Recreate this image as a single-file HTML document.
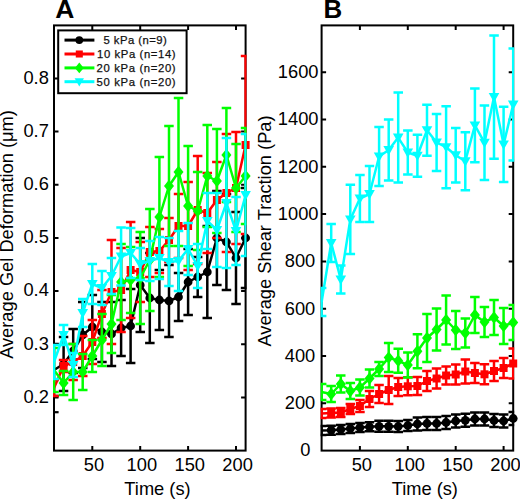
<!DOCTYPE html>
<html><head><meta charset="utf-8"><title>Figure</title><style>html,body{margin:0;padding:0;background:#fff;width:520px;height:500px;overflow:hidden;}svg{display:block;font-family:"Liberation Sans",sans-serif;}</style></head><body>
<svg width="520" height="500" viewBox="0 0 520 500"><defs><clipPath id="ca"><rect x="53" y="24.4" width="193.6" height="427.2"/></clipPath><clipPath id="cb"><rect x="320.6" y="24.4" width="193.6" height="427.2"/></clipPath></defs>
<rect x="54" y="25.4" width="191.6" height="425.2" fill="none" stroke="#000" stroke-width="2"/>
<path d="M92.3 450.6V446.1M92.3 25.4V29.9M140.2 450.6V446.1M140.2 25.4V29.9M188.1 450.6V446.1M188.1 25.4V29.9M236.0 450.6V446.1M236.0 25.4V29.9M54 397.4H58.5M245.6 397.4H241.1M54 344.3H58.5M245.6 344.3H241.1M54 291.1H58.5M245.6 291.1H241.1M54 237.9H58.5M245.6 237.9H241.1M54 184.8H58.5M245.6 184.8H241.1M54 131.6H58.5M245.6 131.6H241.1M54 78.4H58.5M245.6 78.4H241.1" stroke="#000" stroke-width="2" fill="none"/>
<rect x="321.6" y="25.4" width="191.6" height="425.2" fill="none" stroke="#000" stroke-width="2"/>
<path d="M359.9 450.6V446.1M359.9 25.4V29.9M407.8 450.6V446.1M407.8 25.4V29.9M455.7 450.6V446.1M455.7 25.4V29.9M503.6 450.6V446.1M503.6 25.4V29.9M321.6 403.3H326.1M513.2 403.3H508.7M321.6 356.0H326.1M513.2 356.0H508.7M321.6 308.7H326.1M513.2 308.7H508.7M321.6 261.4H326.1M513.2 261.4H508.7M321.6 214.1H326.1M513.2 214.1H508.7M321.6 166.8H326.1M513.2 166.8H508.7M321.6 119.5H326.1M513.2 119.5H508.7M321.6 72.2H326.1M513.2 72.2H508.7" stroke="#000" stroke-width="2" fill="none"/>
<path d="M54 412.2H58.6" stroke="#000" stroke-width="2.2"/>
<g><path d="M54.0 344.0V396.0M49.2 344.0H58.8M49.2 396.0H58.8M63.6 337.0V391.0M58.8 337.0H68.3M58.8 391.0H68.3M73.2 329.0V373.0M68.4 329.0H77.9M68.4 373.0H77.9M82.7 302.0V368.0M78.0 302.0H87.5M78.0 368.0H87.5M92.3 295.0V359.0M87.6 295.0H97.1M87.6 359.0H97.1M101.9 302.0V362.0M97.2 302.0H106.7M97.2 362.0H106.7M111.5 302.0V366.0M106.7 302.0H116.2M106.7 366.0H116.2M121.1 300.0V356.0M116.3 300.0H125.8M116.3 356.0H125.8M130.6 289.0V363.0M125.9 289.0H135.4M125.9 363.0H135.4M140.2 238.0V332.0M135.5 238.0H145.0M135.5 332.0H145.0M149.8 253.0V343.0M145.1 253.0H154.6M145.1 343.0H154.6M159.4 270.0V330.0M154.6 270.0H164.1M154.6 330.0H164.1M169.0 265.0V337.0M164.2 265.0H173.7M164.2 337.0H173.7M178.5 273.0V321.0M173.8 273.0H183.3M173.8 321.0H183.3M188.1 249.0V315.0M183.4 249.0H192.9M183.4 315.0H192.9M197.7 257.0V297.0M192.9 257.0H202.4M192.9 297.0H202.4M207.3 226.0V318.0M202.5 226.0H212.0M202.5 318.0H212.0M216.9 191.0V285.0M212.1 191.0H221.6M212.1 285.0H221.6M226.4 194.0V290.0M221.7 194.0H231.2M221.7 290.0H231.2M236.0 212.0V304.0M231.3 212.0H240.8M231.3 304.0H240.8M245.6 188.0V288.0M240.8 188.0H250.3M240.8 288.0H250.3" stroke="#000000" stroke-width="2.5" fill="none" clip-path="url(#ca)"/>
<polyline points="54.0,370.0 63.6,364.0 73.2,351.0 82.7,335.0 92.3,327.0 101.9,332.0 111.5,334.0 121.1,328.0 130.6,326.0 140.2,285.0 149.8,298.0 159.4,300.0 169.0,301.0 178.5,297.0 188.1,282.0 197.7,277.0 207.3,272.0 216.9,238.0 226.4,242.0 236.0,258.0 245.6,238.0" stroke="#000000" stroke-width="2.5" fill="none" stroke-linejoin="round" clip-path="url(#ca)"/>
<circle cx="63.6" cy="364.0" r="4.4" fill="#000000"/>
<circle cx="73.2" cy="351.0" r="4.4" fill="#000000"/>
<circle cx="82.7" cy="335.0" r="4.4" fill="#000000"/>
<circle cx="92.3" cy="327.0" r="4.4" fill="#000000"/>
<circle cx="101.9" cy="332.0" r="4.4" fill="#000000"/>
<circle cx="111.5" cy="334.0" r="4.4" fill="#000000"/>
<circle cx="121.1" cy="328.0" r="4.4" fill="#000000"/>
<circle cx="130.6" cy="326.0" r="4.4" fill="#000000"/>
<circle cx="140.2" cy="285.0" r="4.4" fill="#000000"/>
<circle cx="149.8" cy="298.0" r="4.4" fill="#000000"/>
<circle cx="159.4" cy="300.0" r="4.4" fill="#000000"/>
<circle cx="169.0" cy="301.0" r="4.4" fill="#000000"/>
<circle cx="178.5" cy="297.0" r="4.4" fill="#000000"/>
<circle cx="188.1" cy="282.0" r="4.4" fill="#000000"/>
<circle cx="197.7" cy="277.0" r="4.4" fill="#000000"/>
<circle cx="207.3" cy="272.0" r="4.4" fill="#000000"/>
<circle cx="216.9" cy="238.0" r="4.4" fill="#000000"/>
<circle cx="226.4" cy="242.0" r="4.4" fill="#000000"/>
<circle cx="236.0" cy="258.0" r="4.4" fill="#000000"/>
<circle cx="245.6" cy="238.0" r="4.4" fill="#000000"/>
<path d="M54.0 380.0V396.0M49.2 380.0H58.8M49.2 396.0H58.8M63.6 360.0V372.0M58.8 360.0H68.3M58.8 372.0H68.3M73.2 344.0V380.0M68.4 344.0H77.9M68.4 380.0H77.9M82.7 336.0V376.0M78.0 336.0H87.5M78.0 376.0H87.5M92.3 320.0V364.0M87.6 320.0H97.1M87.6 364.0H97.1M101.9 290.0V338.0M97.2 290.0H106.7M97.2 338.0H106.7M111.5 240.0V344.0M106.7 240.0H116.2M106.7 344.0H116.2M121.1 248.0V332.0M116.3 248.0H125.8M116.3 332.0H125.8M130.6 222.0V318.0M125.9 222.0H135.4M125.9 318.0H135.4M140.2 242.0V302.0M135.5 242.0H145.0M135.5 302.0H145.0M149.8 227.0V277.0M145.1 227.0H154.6M145.1 277.0H154.6M159.4 229.0V273.0M154.6 229.0H164.1M154.6 273.0H164.1M169.0 218.0V262.0M164.2 218.0H173.7M164.2 262.0H173.7M178.5 194.0V258.0M173.8 194.0H183.3M173.8 258.0H183.3M188.1 182.0V270.0M183.4 182.0H192.9M183.4 270.0H192.9M197.7 156.0V264.0M192.9 156.0H202.4M192.9 264.0H202.4M207.3 173.0V253.0M202.5 173.0H212.0M202.5 253.0H212.0M216.9 162.0V238.0M212.1 162.0H221.6M212.1 238.0H221.6M226.4 134.0V252.0M221.7 134.0H231.2M221.7 252.0H231.2M236.0 132.0V244.0M231.3 132.0H240.8M231.3 244.0H240.8M245.6 56.0V234.0M240.8 56.0H250.3M240.8 234.0H250.3" stroke="#ff0000" stroke-width="2.5" fill="none" clip-path="url(#ca)"/>
<polyline points="54.0,388.0 63.6,366.0 73.2,362.0 82.7,356.0 92.3,342.0 101.9,314.0 111.5,292.0 121.1,290.0 130.6,270.0 140.2,272.0 149.8,252.0 159.4,251.0 169.0,240.0 178.5,226.0 188.1,226.0 197.7,210.0 207.3,213.0 216.9,200.0 226.4,193.0 236.0,188.0 245.6,145.0" stroke="#ff0000" stroke-width="2.5" fill="none" stroke-linejoin="round" clip-path="url(#ca)"/>
<rect x="59.6" y="362.0" width="8.0" height="8.0" fill="#ff0000"/>
<rect x="69.2" y="358.0" width="8.0" height="8.0" fill="#ff0000"/>
<rect x="78.7" y="352.0" width="8.0" height="8.0" fill="#ff0000"/>
<rect x="88.3" y="338.0" width="8.0" height="8.0" fill="#ff0000"/>
<rect x="97.9" y="310.0" width="8.0" height="8.0" fill="#ff0000"/>
<rect x="107.5" y="288.0" width="8.0" height="8.0" fill="#ff0000"/>
<rect x="117.1" y="286.0" width="8.0" height="8.0" fill="#ff0000"/>
<rect x="126.6" y="266.0" width="8.0" height="8.0" fill="#ff0000"/>
<rect x="136.2" y="268.0" width="8.0" height="8.0" fill="#ff0000"/>
<rect x="145.8" y="248.0" width="8.0" height="8.0" fill="#ff0000"/>
<rect x="155.4" y="247.0" width="8.0" height="8.0" fill="#ff0000"/>
<rect x="165.0" y="236.0" width="8.0" height="8.0" fill="#ff0000"/>
<rect x="174.5" y="222.0" width="8.0" height="8.0" fill="#ff0000"/>
<rect x="184.1" y="222.0" width="8.0" height="8.0" fill="#ff0000"/>
<rect x="193.7" y="206.0" width="8.0" height="8.0" fill="#ff0000"/>
<rect x="203.3" y="209.0" width="8.0" height="8.0" fill="#ff0000"/>
<rect x="212.9" y="196.0" width="8.0" height="8.0" fill="#ff0000"/>
<rect x="222.4" y="189.0" width="8.0" height="8.0" fill="#ff0000"/>
<rect x="232.0" y="184.0" width="8.0" height="8.0" fill="#ff0000"/>
<rect x="241.6" y="141.0" width="8.0" height="8.0" fill="#ff0000"/>
<path d="M54.0 348.0V392.0M49.2 348.0H58.8M49.2 392.0H58.8M63.6 371.0V395.0M58.8 371.0H68.3M58.8 395.0H68.3M73.2 344.0V400.0M68.4 344.0H77.9M68.4 400.0H77.9M82.7 354.0V390.0M78.0 354.0H87.5M78.0 390.0H87.5M92.3 340.0V372.0M87.6 340.0H97.1M87.6 372.0H97.1M101.9 314.0V366.0M97.2 314.0H106.7M97.2 366.0H106.7M111.5 295.0V353.0M106.7 295.0H116.2M106.7 353.0H116.2M121.1 244.0V320.0M116.3 244.0H125.8M116.3 320.0H125.8M130.6 247.0V313.0M125.9 247.0H135.4M125.9 313.0H135.4M140.2 232.0V324.0M135.5 232.0H145.0M135.5 324.0H145.0M149.8 209.0V311.0M145.1 209.0H154.6M145.1 311.0H154.6M159.4 157.0V277.0M154.6 157.0H164.1M154.6 277.0H164.1M169.0 126.0V246.0M164.2 126.0H173.7M164.2 246.0H173.7M178.5 98.0V246.0M173.8 98.0H183.3M173.8 246.0H183.3M188.1 146.0V266.0M183.4 146.0H192.9M183.4 266.0H192.9M197.7 172.0V250.0M192.9 172.0H202.4M192.9 250.0H202.4M207.3 125.0V227.0M202.5 125.0H212.0M202.5 227.0H212.0M216.9 129.0V233.0M212.1 129.0H221.6M212.1 233.0H221.6M226.4 108.0V202.0M221.7 108.0H231.2M221.7 202.0H231.2M236.0 144.0V232.0M231.3 144.0H240.8M231.3 232.0H240.8M245.6 128.0V224.0M240.8 128.0H250.3M240.8 224.0H250.3" stroke="#00ff00" stroke-width="2.5" fill="none" clip-path="url(#ca)"/>
<polyline points="54.0,370.0 63.6,383.0 73.2,372.0 82.7,372.0 92.3,356.0 101.9,340.0 111.5,324.0 121.1,282.0 130.6,280.0 140.2,278.0 149.8,260.0 159.4,217.0 169.0,186.0 178.5,172.0 188.1,206.0 197.7,211.0 207.3,176.0 216.9,181.0 226.4,155.0 236.0,188.0 245.6,176.0" stroke="#00ff00" stroke-width="2.5" fill="none" stroke-linejoin="round" clip-path="url(#ca)"/>
<path d="M63.6 376.8L68.6 383.0L63.6 389.2L58.6 383.0Z" fill="#00ff00"/>
<path d="M73.2 365.8L78.2 372.0L73.2 378.2L68.2 372.0Z" fill="#00ff00"/>
<path d="M82.7 365.8L87.7 372.0L82.7 378.2L77.7 372.0Z" fill="#00ff00"/>
<path d="M92.3 349.8L97.3 356.0L92.3 362.2L87.3 356.0Z" fill="#00ff00"/>
<path d="M101.9 333.8L106.9 340.0L101.9 346.2L96.9 340.0Z" fill="#00ff00"/>
<path d="M111.5 317.8L116.5 324.0L111.5 330.2L106.5 324.0Z" fill="#00ff00"/>
<path d="M121.1 275.8L126.1 282.0L121.1 288.2L116.1 282.0Z" fill="#00ff00"/>
<path d="M130.6 273.8L135.6 280.0L130.6 286.2L125.6 280.0Z" fill="#00ff00"/>
<path d="M140.2 271.8L145.2 278.0L140.2 284.2L135.2 278.0Z" fill="#00ff00"/>
<path d="M149.8 253.8L154.8 260.0L149.8 266.2L144.8 260.0Z" fill="#00ff00"/>
<path d="M159.4 210.8L164.4 217.0L159.4 223.2L154.4 217.0Z" fill="#00ff00"/>
<path d="M169.0 179.8L174.0 186.0L169.0 192.2L164.0 186.0Z" fill="#00ff00"/>
<path d="M178.5 165.8L183.5 172.0L178.5 178.2L173.5 172.0Z" fill="#00ff00"/>
<path d="M188.1 199.8L193.1 206.0L188.1 212.2L183.1 206.0Z" fill="#00ff00"/>
<path d="M197.7 204.8L202.7 211.0L197.7 217.2L192.7 211.0Z" fill="#00ff00"/>
<path d="M207.3 169.8L212.3 176.0L207.3 182.2L202.3 176.0Z" fill="#00ff00"/>
<path d="M216.9 174.8L221.9 181.0L216.9 187.2L211.9 181.0Z" fill="#00ff00"/>
<path d="M226.4 148.8L231.4 155.0L226.4 161.2L221.4 155.0Z" fill="#00ff00"/>
<path d="M236.0 181.8L241.0 188.0L236.0 194.2L231.0 188.0Z" fill="#00ff00"/>
<path d="M245.6 169.8L250.6 176.0L245.6 182.2L240.6 176.0Z" fill="#00ff00"/>
<path d="M54.0 345.0V379.0M49.2 345.0H58.8M49.2 379.0H58.8M63.6 325.0V345.0M58.8 325.0H68.3M58.8 345.0H68.3M73.2 353.0V377.0M68.4 353.0H77.9M68.4 377.0H77.9M82.7 299.0V327.0M78.0 299.0H87.5M78.0 327.0H87.5M92.3 264.0V304.0M87.6 264.0H97.1M87.6 304.0H97.1M101.9 271.0V305.0M97.2 271.0H106.7M97.2 305.0H106.7M111.5 258.0V294.0M106.7 258.0H116.2M106.7 294.0H116.2M121.1 227.5V285.5M116.3 227.5H125.8M116.3 285.5H125.8M130.6 228.0V278.0M125.9 228.0H135.4M125.9 278.0H135.4M140.2 248.0V280.0M135.5 248.0H145.0M135.5 280.0H145.0M149.8 241.0V281.0M145.1 241.0H154.6M145.1 281.0H154.6M159.4 237.0V279.0M154.6 237.0H164.1M154.6 279.0H164.1M169.0 238.0V286.0M164.2 238.0H173.7M164.2 286.0H173.7M178.5 231.0V291.0M173.8 231.0H183.3M173.8 291.0H183.3M188.1 223.0V275.0M183.4 223.0H192.9M183.4 275.0H192.9M197.7 244.0V288.0M192.9 244.0H202.4M192.9 288.0H202.4M207.3 193.0V249.0M202.5 193.0H212.0M202.5 249.0H212.0M216.9 193.0V267.0M212.1 193.0H221.6M212.1 267.0H221.6M226.4 138.0V268.0M221.7 138.0H231.2M221.7 268.0H231.2M236.0 197.0V265.0M231.3 197.0H240.8M231.3 265.0H240.8M245.6 134.0V256.0M240.8 134.0H250.3M240.8 256.0H250.3" stroke="#00ffff" stroke-width="2.5" fill="none" clip-path="url(#ca)"/>
<polyline points="54.0,362.0 63.6,335.0 73.2,365.0 82.7,313.0 92.3,284.0 101.9,288.0 111.5,276.0 121.1,256.5 130.6,253.0 140.2,264.0 149.8,261.0 159.4,258.0 169.0,262.0 178.5,261.0 188.1,249.0 197.7,266.0 207.3,221.0 216.9,230.0 226.4,203.0 236.0,231.0 245.6,195.0" stroke="#00ffff" stroke-width="2.5" fill="none" stroke-linejoin="round" clip-path="url(#ca)"/>
<path d="M58.3 331.0L68.9 331.0L63.6 340.4Z" fill="#00ffff"/>
<path d="M67.9 361.0L78.5 361.0L73.2 370.4Z" fill="#00ffff"/>
<path d="M77.4 309.0L88.0 309.0L82.7 318.4Z" fill="#00ffff"/>
<path d="M87.0 280.0L97.6 280.0L92.3 289.4Z" fill="#00ffff"/>
<path d="M96.6 284.0L107.2 284.0L101.9 293.4Z" fill="#00ffff"/>
<path d="M106.2 272.0L116.8 272.0L111.5 281.4Z" fill="#00ffff"/>
<path d="M115.8 252.5L126.4 252.5L121.1 261.9Z" fill="#00ffff"/>
<path d="M125.3 249.0L135.9 249.0L130.6 258.4Z" fill="#00ffff"/>
<path d="M134.9 260.0L145.5 260.0L140.2 269.4Z" fill="#00ffff"/>
<path d="M144.5 257.0L155.1 257.0L149.8 266.4Z" fill="#00ffff"/>
<path d="M154.1 254.0L164.7 254.0L159.4 263.4Z" fill="#00ffff"/>
<path d="M163.7 258.0L174.3 258.0L169.0 267.4Z" fill="#00ffff"/>
<path d="M173.2 257.0L183.8 257.0L178.5 266.4Z" fill="#00ffff"/>
<path d="M182.8 245.0L193.4 245.0L188.1 254.4Z" fill="#00ffff"/>
<path d="M192.4 262.0L203.0 262.0L197.7 271.4Z" fill="#00ffff"/>
<path d="M202.0 217.0L212.6 217.0L207.3 226.4Z" fill="#00ffff"/>
<path d="M211.6 226.0L222.2 226.0L216.9 235.4Z" fill="#00ffff"/>
<path d="M221.1 199.0L231.7 199.0L226.4 208.4Z" fill="#00ffff"/>
<path d="M230.7 227.0L241.3 227.0L236.0 236.4Z" fill="#00ffff"/>
<path d="M240.3 191.0L250.9 191.0L245.6 200.4Z" fill="#00ffff"/></g>
<g><path d="M321.6 426.1V435.1M316.9 426.1H326.4M316.9 435.1H326.4M331.2 425.7V434.7M326.4 425.7H335.9M326.4 434.7H335.9M340.8 425.0V434.0M336.0 425.0H345.5M336.0 434.0H345.5M350.3 424.0V433.0M345.6 424.0H355.1M345.6 433.0H355.1M359.9 423.0V432.0M355.2 423.0H364.7M355.2 432.0H364.7M369.5 422.3V431.3M364.8 422.3H374.2M364.8 431.3H374.2M379.1 420.8V431.8M374.3 420.8H383.8M374.3 431.8H383.8M388.7 420.8V431.8M383.9 420.8H393.4M383.9 431.8H393.4M398.2 421.0V432.0M393.5 421.0H403.0M393.5 432.0H403.0M407.8 420.0V431.0M403.1 420.0H412.6M403.1 431.0H412.6M417.4 417.5V430.5M412.7 417.5H422.2M412.7 430.5H422.2M427.0 417.0V430.0M422.2 417.0H431.7M422.2 430.0H431.7M436.6 417.0V430.0M431.8 417.0H441.3M431.8 430.0H441.3M446.1 416.0V429.0M441.4 416.0H450.9M441.4 429.0H450.9M455.7 414.5V427.5M451.0 414.5H460.5M451.0 427.5H460.5M465.3 413.8V426.8M460.6 413.8H470.1M460.6 426.8H470.1M474.9 412.5V425.5M470.1 412.5H479.6M470.1 425.5H479.6M484.5 412.5V425.5M479.7 412.5H489.2M479.7 425.5H489.2M494.0 414.0V427.0M489.3 414.0H498.8M489.3 427.0H498.8M503.6 414.5V427.5M498.9 414.5H508.4M498.9 427.5H508.4M513.2 412.0V425.0M508.5 412.0H518.0M508.5 425.0H518.0" stroke="#000000" stroke-width="2.5" fill="none" clip-path="url(#cb)"/>
<polyline points="321.6,430.6 331.2,430.2 340.8,429.5 350.3,428.5 359.9,427.5 369.5,426.8 379.1,426.3 388.7,426.3 398.2,426.5 407.8,425.5 417.4,424.0 427.0,423.5 436.6,423.5 446.1,422.5 455.7,421.0 465.3,420.3 474.9,419.0 484.5,419.0 494.0,420.5 503.6,421.0 513.2,418.5" stroke="#000000" stroke-width="2.5" fill="none" stroke-linejoin="round" clip-path="url(#cb)"/>
<circle cx="331.2" cy="430.2" r="4.4" fill="#000000"/>
<circle cx="340.8" cy="429.5" r="4.4" fill="#000000"/>
<circle cx="350.3" cy="428.5" r="4.4" fill="#000000"/>
<circle cx="359.9" cy="427.5" r="4.4" fill="#000000"/>
<circle cx="369.5" cy="426.8" r="4.4" fill="#000000"/>
<circle cx="379.1" cy="426.3" r="4.4" fill="#000000"/>
<circle cx="388.7" cy="426.3" r="4.4" fill="#000000"/>
<circle cx="398.2" cy="426.5" r="4.4" fill="#000000"/>
<circle cx="407.8" cy="425.5" r="4.4" fill="#000000"/>
<circle cx="417.4" cy="424.0" r="4.4" fill="#000000"/>
<circle cx="427.0" cy="423.5" r="4.4" fill="#000000"/>
<circle cx="436.6" cy="423.5" r="4.4" fill="#000000"/>
<circle cx="446.1" cy="422.5" r="4.4" fill="#000000"/>
<circle cx="455.7" cy="421.0" r="4.4" fill="#000000"/>
<circle cx="465.3" cy="420.3" r="4.4" fill="#000000"/>
<circle cx="474.9" cy="419.0" r="4.4" fill="#000000"/>
<circle cx="484.5" cy="419.0" r="4.4" fill="#000000"/>
<circle cx="494.0" cy="420.5" r="4.4" fill="#000000"/>
<circle cx="503.6" cy="421.0" r="4.4" fill="#000000"/>
<circle cx="513.2" cy="418.5" r="4.4" fill="#000000"/>
<path d="M321.6 409.0V418.0M316.9 409.0H326.4M316.9 418.0H326.4M331.2 408.5V417.5M326.4 408.5H335.9M326.4 417.5H335.9M340.8 408.0V417.0M336.0 408.0H345.5M336.0 417.0H345.5M350.3 404.0V414.0M345.6 404.0H355.1M345.6 414.0H355.1M359.9 400.0V412.0M355.2 400.0H364.7M355.2 412.0H364.7M369.5 391.0V407.0M364.8 391.0H374.2M364.8 407.0H374.2M379.1 385.0V403.0M374.3 385.0H383.8M374.3 403.0H383.8M388.7 376.0V404.0M383.9 376.0H393.4M383.9 404.0H393.4M398.2 378.0V396.0M393.5 378.0H403.0M393.5 396.0H403.0M407.8 377.3V395.3M403.1 377.3H412.6M403.1 395.3H412.6M417.4 377.0V395.0M412.7 377.0H422.2M412.7 395.0H422.2M427.0 371.0V391.0M422.2 371.0H431.7M422.2 391.0H431.7M436.6 368.5V388.5M431.8 368.5H441.3M431.8 388.5H441.3M446.1 366.5V384.5M441.4 366.5H450.9M441.4 384.5H450.9M455.7 364.5V384.5M451.0 364.5H460.5M451.0 384.5H460.5M465.3 359.5V383.5M460.6 359.5H470.1M460.6 383.5H470.1M474.9 363.0V383.0M470.1 363.0H479.6M470.1 383.0H479.6M484.5 364.3V384.3M479.7 364.3H489.2M479.7 384.3H489.2M494.0 361.0V381.0M489.3 361.0H498.8M489.3 381.0H498.8M503.6 358.0V378.0M498.9 358.0H508.4M498.9 378.0H508.4M513.2 348.5V378.5M508.5 348.5H518.0M508.5 378.5H518.0" stroke="#ff0000" stroke-width="2.5" fill="none" clip-path="url(#cb)"/>
<polyline points="321.6,413.5 331.2,413.0 340.8,412.5 350.3,409.0 359.9,406.0 369.5,399.0 379.1,394.0 388.7,390.0 398.2,387.0 407.8,386.3 417.4,386.0 427.0,381.0 436.6,378.5 446.1,375.5 455.7,374.5 465.3,371.5 474.9,373.0 484.5,374.3 494.0,371.0 503.6,368.0 513.2,363.5" stroke="#ff0000" stroke-width="2.5" fill="none" stroke-linejoin="round" clip-path="url(#cb)"/>
<rect x="327.2" y="409.0" width="8.0" height="8.0" fill="#ff0000"/>
<rect x="336.8" y="408.5" width="8.0" height="8.0" fill="#ff0000"/>
<rect x="346.3" y="405.0" width="8.0" height="8.0" fill="#ff0000"/>
<rect x="355.9" y="402.0" width="8.0" height="8.0" fill="#ff0000"/>
<rect x="365.5" y="395.0" width="8.0" height="8.0" fill="#ff0000"/>
<rect x="375.1" y="390.0" width="8.0" height="8.0" fill="#ff0000"/>
<rect x="384.7" y="386.0" width="8.0" height="8.0" fill="#ff0000"/>
<rect x="394.2" y="383.0" width="8.0" height="8.0" fill="#ff0000"/>
<rect x="403.8" y="382.3" width="8.0" height="8.0" fill="#ff0000"/>
<rect x="413.4" y="382.0" width="8.0" height="8.0" fill="#ff0000"/>
<rect x="423.0" y="377.0" width="8.0" height="8.0" fill="#ff0000"/>
<rect x="432.6" y="374.5" width="8.0" height="8.0" fill="#ff0000"/>
<rect x="442.1" y="371.5" width="8.0" height="8.0" fill="#ff0000"/>
<rect x="451.7" y="370.5" width="8.0" height="8.0" fill="#ff0000"/>
<rect x="461.3" y="367.5" width="8.0" height="8.0" fill="#ff0000"/>
<rect x="470.9" y="369.0" width="8.0" height="8.0" fill="#ff0000"/>
<rect x="480.5" y="370.3" width="8.0" height="8.0" fill="#ff0000"/>
<rect x="490.0" y="367.0" width="8.0" height="8.0" fill="#ff0000"/>
<rect x="499.6" y="364.0" width="8.0" height="8.0" fill="#ff0000"/>
<rect x="509.2" y="359.5" width="8.0" height="8.0" fill="#ff0000"/>
<path d="M321.6 384.0V400.0M316.9 384.0H326.4M316.9 400.0H326.4M331.2 386.0V402.0M326.4 386.0H335.9M326.4 402.0H335.9M340.8 375.5V392.5M336.0 375.5H345.5M336.0 392.5H345.5M350.3 383.0V399.0M345.6 383.0H355.1M345.6 399.0H355.1M359.9 379.5V395.5M355.2 379.5H364.7M355.2 395.5H364.7M369.5 369.5V387.5M364.8 369.5H374.2M364.8 387.5H374.2M379.1 362.0V376.0M374.3 362.0H383.8M374.3 376.0H383.8M388.7 343.1V372.1M383.9 343.1H393.4M383.9 372.1H393.4M398.2 348.8V372.8M393.5 348.8H403.0M393.5 372.8H403.0M407.8 352.5V377.5M403.1 352.5H412.6M403.1 377.5H412.6M417.4 334.3V368.3M412.7 334.3H422.2M412.7 368.3H422.2M427.0 314.0V362.0M422.2 314.0H431.7M422.2 362.0H431.7M436.6 308.5V350.5M431.8 308.5H441.3M431.8 350.5H441.3M446.1 295.5V344.5M441.4 295.5H450.9M441.4 344.5H450.9M455.7 311.0V349.0M451.0 311.0H460.5M451.0 349.0H460.5M465.3 318.5V347.5M460.6 318.5H470.1M460.6 347.5H470.1M474.9 297.0V333.0M470.1 297.0H479.6M470.1 333.0H479.6M484.5 307.0V337.0M479.7 307.0H489.2M479.7 337.0H489.2M494.0 300.0V335.0M489.3 300.0H498.8M489.3 335.0H498.8M503.6 308.0V344.0M498.9 308.0H508.4M498.9 344.0H508.4M513.2 305.0V340.0M508.5 305.0H518.0M508.5 340.0H518.0" stroke="#00ff00" stroke-width="2.5" fill="none" clip-path="url(#cb)"/>
<polyline points="321.6,392.0 331.2,394.0 340.8,384.0 350.3,391.0 359.9,387.5 369.5,378.5 379.1,369.0 388.7,357.6 398.2,360.8 407.8,365.0 417.4,351.3 427.0,338.0 436.6,329.5 446.1,320.0 455.7,330.0 465.3,333.0 474.9,315.0 484.5,322.0 494.0,317.5 503.6,326.0 513.2,322.5" stroke="#00ff00" stroke-width="2.5" fill="none" stroke-linejoin="round" clip-path="url(#cb)"/>
<path d="M331.2 387.8L336.2 394.0L331.2 400.2L326.2 394.0Z" fill="#00ff00"/>
<path d="M340.8 377.8L345.8 384.0L340.8 390.2L335.8 384.0Z" fill="#00ff00"/>
<path d="M350.3 384.8L355.3 391.0L350.3 397.2L345.3 391.0Z" fill="#00ff00"/>
<path d="M359.9 381.3L364.9 387.5L359.9 393.7L354.9 387.5Z" fill="#00ff00"/>
<path d="M369.5 372.3L374.5 378.5L369.5 384.7L364.5 378.5Z" fill="#00ff00"/>
<path d="M379.1 362.8L384.1 369.0L379.1 375.2L374.1 369.0Z" fill="#00ff00"/>
<path d="M388.7 351.4L393.7 357.6L388.7 363.8L383.7 357.6Z" fill="#00ff00"/>
<path d="M398.2 354.6L403.2 360.8L398.2 367.0L393.2 360.8Z" fill="#00ff00"/>
<path d="M407.8 358.8L412.8 365.0L407.8 371.2L402.8 365.0Z" fill="#00ff00"/>
<path d="M417.4 345.1L422.4 351.3L417.4 357.5L412.4 351.3Z" fill="#00ff00"/>
<path d="M427.0 331.8L432.0 338.0L427.0 344.2L422.0 338.0Z" fill="#00ff00"/>
<path d="M436.6 323.3L441.6 329.5L436.6 335.7L431.6 329.5Z" fill="#00ff00"/>
<path d="M446.1 313.8L451.1 320.0L446.1 326.2L441.1 320.0Z" fill="#00ff00"/>
<path d="M455.7 323.8L460.7 330.0L455.7 336.2L450.7 330.0Z" fill="#00ff00"/>
<path d="M465.3 326.8L470.3 333.0L465.3 339.2L460.3 333.0Z" fill="#00ff00"/>
<path d="M474.9 308.8L479.9 315.0L474.9 321.2L469.9 315.0Z" fill="#00ff00"/>
<path d="M484.5 315.8L489.5 322.0L484.5 328.2L479.5 322.0Z" fill="#00ff00"/>
<path d="M494.0 311.3L499.0 317.5L494.0 323.7L489.0 317.5Z" fill="#00ff00"/>
<path d="M503.6 319.8L508.6 326.0L503.6 332.2L498.6 326.0Z" fill="#00ff00"/>
<path d="M513.2 316.3L518.2 322.5L513.2 328.7L508.2 322.5Z" fill="#00ff00"/>
<path d="M321.6 288.0V316.0M316.9 288.0H326.4M316.9 316.0H326.4M331.2 224.0V262.0M326.4 224.0H335.9M326.4 262.0H335.9M340.8 265.5V293.5M336.0 265.5H345.5M336.0 293.5H345.5M350.3 184.8V254.0M345.6 184.8H355.1M345.6 254.0H355.1M359.9 175.0V222.0M355.2 175.0H364.7M355.2 222.0H364.7M369.5 166.0V222.0M364.8 166.0H374.2M364.8 222.0H374.2M379.1 127.0V186.0M374.3 127.0H383.8M374.3 186.0H383.8M388.7 119.5V180.5M383.9 119.5H393.4M383.9 180.5H393.4M398.2 92.6V182.6M393.5 92.6H403.0M393.5 182.6H403.0M407.8 130.5V174.5M403.1 130.5H412.6M403.1 174.5H412.6M417.4 134.7V176.7M412.7 134.7H422.2M412.7 176.7H422.2M427.0 104.7V155.7M422.2 104.7H431.7M422.2 155.7H431.7M436.6 114.0V171.0M431.8 114.0H441.3M431.8 171.0H441.3M446.1 106.2V188.2M441.4 106.2H450.9M441.4 188.2H450.9M455.7 127.9V182.5M451.0 127.9H460.5M451.0 182.5H460.5M465.3 132.3V190.3M460.6 132.3H470.1M460.6 190.3H470.1M474.9 88.6V162.2M470.1 88.6H479.6M470.1 162.2H479.6M484.5 105.4V180.0M479.7 105.4H489.2M479.7 180.0H489.2M494.0 35.4V158.8M489.3 35.4H498.8M489.3 158.8H498.8M503.6 106.8V182.0M498.9 106.8H508.4M498.9 182.0H508.4M513.2 48.5V160.5M508.5 48.5H518.0M508.5 160.5H518.0" stroke="#00ffff" stroke-width="2.5" fill="none" clip-path="url(#cb)"/>
<polyline points="321.6,302.0 331.2,243.0 340.8,279.5 350.3,219.4 359.9,198.5 369.5,194.0 379.1,156.5 388.7,150.0 398.2,137.6 407.8,152.5 417.4,155.7 427.0,130.2 436.6,142.5 446.1,147.2 455.7,155.2 465.3,161.3 474.9,125.4 484.5,142.7 494.0,97.1 503.6,144.4 513.2,104.5" stroke="#00ffff" stroke-width="2.5" fill="none" stroke-linejoin="round" clip-path="url(#cb)"/>
<path d="M325.9 239.0L336.5 239.0L331.2 248.4Z" fill="#00ffff"/>
<path d="M335.5 275.5L346.1 275.5L340.8 284.9Z" fill="#00ffff"/>
<path d="M345.0 215.4L355.6 215.4L350.3 224.8Z" fill="#00ffff"/>
<path d="M354.6 194.5L365.2 194.5L359.9 203.9Z" fill="#00ffff"/>
<path d="M364.2 190.0L374.8 190.0L369.5 199.4Z" fill="#00ffff"/>
<path d="M373.8 152.5L384.4 152.5L379.1 161.9Z" fill="#00ffff"/>
<path d="M383.4 146.0L394.0 146.0L388.7 155.4Z" fill="#00ffff"/>
<path d="M392.9 133.6L403.5 133.6L398.2 143.0Z" fill="#00ffff"/>
<path d="M402.5 148.5L413.1 148.5L407.8 157.9Z" fill="#00ffff"/>
<path d="M412.1 151.7L422.7 151.7L417.4 161.1Z" fill="#00ffff"/>
<path d="M421.7 126.2L432.3 126.2L427.0 135.6Z" fill="#00ffff"/>
<path d="M431.3 138.5L441.9 138.5L436.6 147.9Z" fill="#00ffff"/>
<path d="M440.8 143.2L451.4 143.2L446.1 152.6Z" fill="#00ffff"/>
<path d="M450.4 151.2L461.0 151.2L455.7 160.6Z" fill="#00ffff"/>
<path d="M460.0 157.3L470.6 157.3L465.3 166.7Z" fill="#00ffff"/>
<path d="M469.6 121.4L480.2 121.4L474.9 130.8Z" fill="#00ffff"/>
<path d="M479.2 138.7L489.8 138.7L484.5 148.1Z" fill="#00ffff"/>
<path d="M488.7 93.1L499.3 93.1L494.0 102.5Z" fill="#00ffff"/>
<path d="M498.3 140.4L508.9 140.4L503.6 149.8Z" fill="#00ffff"/>
<path d="M507.9 100.5L518.5 100.5L513.2 109.9Z" fill="#00ffff"/></g>
<g font-family="Liberation Sans, sans-serif" font-size="17.5" fill="#000"><text transform="translate(48.8 402.6) scale(1.045 1)" text-anchor="end">0.2</text>
<text transform="translate(48.8 349.5) scale(1.045 1)" text-anchor="end">0.3</text>
<text transform="translate(48.8 296.3) scale(1.045 1)" text-anchor="end">0.4</text>
<text transform="translate(48.8 243.1) scale(1.045 1)" text-anchor="end">0.5</text>
<text transform="translate(48.8 189.9) scale(1.045 1)" text-anchor="end">0.6</text>
<text transform="translate(48.8 136.8) scale(1.045 1)" text-anchor="end">0.7</text>
<text transform="translate(48.8 83.6) scale(1.045 1)" text-anchor="end">0.8</text>
<text transform="translate(315.2 409.1) scale(1.045 1)" text-anchor="end">200</text>
<text transform="translate(315.2 361.8) scale(1.045 1)" text-anchor="end">400</text>
<text transform="translate(315.2 314.5) scale(1.045 1)" text-anchor="end">600</text>
<text transform="translate(315.2 267.2) scale(1.045 1)" text-anchor="end">800</text>
<text transform="translate(318.5 219.9) scale(1.045 1)" text-anchor="end">1000</text>
<text transform="translate(318.5 172.6) scale(1.045 1)" text-anchor="end">1200</text>
<text transform="translate(318.5 125.3) scale(1.045 1)" text-anchor="end">1400</text>
<text transform="translate(318.5 78.0) scale(1.045 1)" text-anchor="end">1600</text>
<text transform="translate(310.3 456.2) scale(1.045 1)" text-anchor="end">0</text>
<text transform="translate(93.9 471.0) scale(1.045 1)" text-anchor="middle">50</text>
<text transform="translate(361.8 471.0) scale(1.045 1)" text-anchor="middle">50</text>
<text transform="translate(141.8 471.0) scale(1.045 1)" text-anchor="middle">100</text>
<text transform="translate(409.7 471.0) scale(1.045 1)" text-anchor="middle">100</text>
<text transform="translate(189.7 471.0) scale(1.045 1)" text-anchor="middle">150</text>
<text transform="translate(457.6 471.0) scale(1.045 1)" text-anchor="middle">150</text>
<text transform="translate(237.6 471.0) scale(1.045 1)" text-anchor="middle">200</text>
<text transform="translate(505.5 471.0) scale(1.045 1)" text-anchor="middle">200</text>
<text transform="translate(157.5 495.0) scale(1.045 1)" text-anchor="middle">Time (s)</text>
<text transform="translate(424.8 495.0) scale(1.045 1)" text-anchor="middle">Time (s)</text>
<text transform="translate(13.2 234.5) rotate(-90) scale(1.045 1)" text-anchor="middle">Average Gel Deformation (&#956;m)</text>
<text transform="translate(271.0 231.0) rotate(-90) scale(1.045 1)" text-anchor="middle">Average Shear Traction (Pa)</text></g>
<g font-family="Liberation Sans, sans-serif" font-size="24.5" font-weight="bold"><text transform="translate(55.2 17.6) scale(1.08 1.02)">A</text><text transform="translate(323.6 18.0) scale(1.06 1.02)">B</text></g>
<g><rect x="58.2" y="30.4" width="128.4" height="62.8" fill="#fff" stroke="#000" stroke-width="2"/>
<path d="M64.5 40.1H94.4" stroke="#000000" stroke-width="3"/>
<g transform="translate(79.3 40.1) scale(0.88)"><circle cx="0.0" cy="0.0" r="4.4" fill="#000000"/></g>
<text x="103.5" y="44.1" font-family="Liberation Sans, sans-serif" font-size="11.3" textLength="63.2" lengthAdjust="spacing" fill="#111" stroke="#111" stroke-width="0.25">5 kPa (n=9)</text>
<path d="M64.5 54.0H94.4" stroke="#ff0000" stroke-width="3"/>
<g transform="translate(79.3 54.0) scale(0.88)"><rect x="-4.0" y="-4.0" width="8.0" height="8.0" fill="#ff0000"/></g>
<text x="97.0" y="58.0" font-family="Liberation Sans, sans-serif" font-size="11.3" textLength="78.6" lengthAdjust="spacing" fill="#111" stroke="#111" stroke-width="0.25">10 kPa (n=14)</text>
<path d="M64.5 67.9H94.4" stroke="#00ff00" stroke-width="3"/>
<g transform="translate(79.3 67.9) scale(0.88)"><path d="M0.0 -6.2L5.0 0.0L0.0 6.2L-5.0 0.0Z" fill="#00ff00"/></g>
<text x="96.60000000000001" y="71.9" font-family="Liberation Sans, sans-serif" font-size="11.3" textLength="79.0" lengthAdjust="spacing" fill="#111" stroke="#111" stroke-width="0.25">20 kPa (n=20)</text>
<path d="M64.5 81.7H94.4" stroke="#00ffff" stroke-width="3"/>
<g transform="translate(79.3 81.7) scale(0.88)"><path d="M-5.3 -4.0L5.3 -4.0L0.0 5.4Z" fill="#00ffff"/></g>
<text x="96.60000000000001" y="85.7" font-family="Liberation Sans, sans-serif" font-size="11.3" textLength="79.0" lengthAdjust="spacing" fill="#111" stroke="#111" stroke-width="0.25">50 kPa (n=20)</text></g></svg>
</body></html>
